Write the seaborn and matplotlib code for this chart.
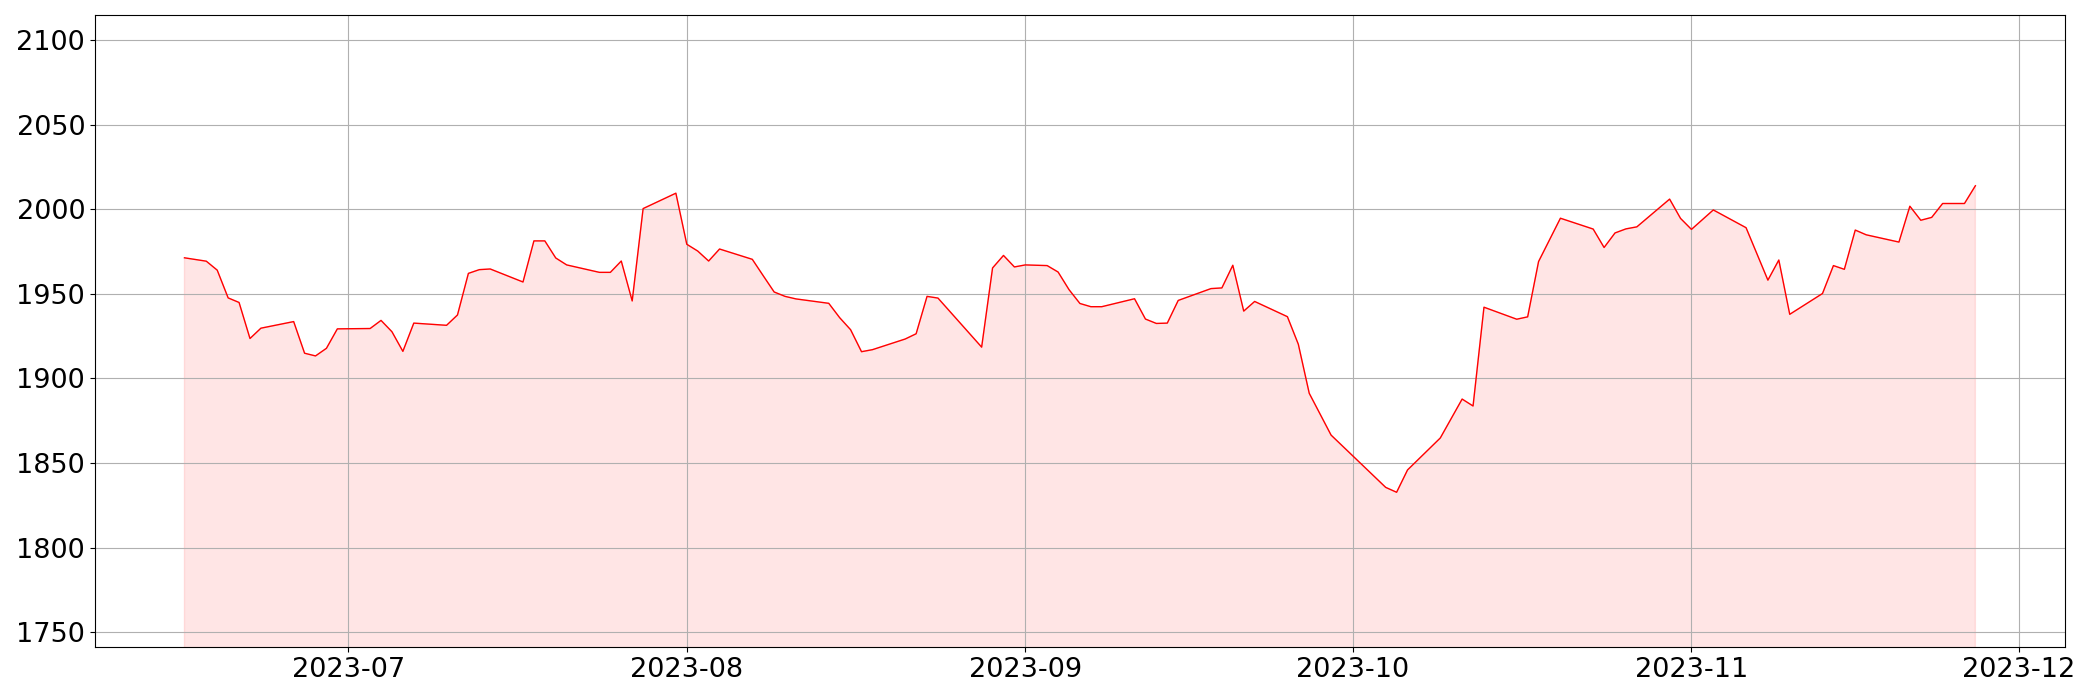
import pandas as pd
import numpy as np
import matplotlib
matplotlib.use("Agg")
import matplotlib.pyplot as plt
import seaborn as sns

# trading days and closing values
dates = [
    "2023-06-16", "2023-06-18", "2023-06-19", "2023-06-20", "2023-06-21", "2023-06-22",
    "2023-06-23", "2023-06-26", "2023-06-27", "2023-06-28", "2023-06-29", "2023-06-30",
    "2023-07-03", "2023-07-04", "2023-07-05", "2023-07-06", "2023-07-07", "2023-07-10",
    "2023-07-11", "2023-07-12", "2023-07-13", "2023-07-14", "2023-07-17", "2023-07-18",
    "2023-07-19", "2023-07-20", "2023-07-21", "2023-07-24", "2023-07-25", "2023-07-26",
    "2023-07-27", "2023-07-28", "2023-07-31",
    "2023-08-01", "2023-08-02", "2023-08-03", "2023-08-04", "2023-08-07", "2023-08-08",
    "2023-08-09", "2023-08-10", "2023-08-11", "2023-08-14", "2023-08-15", "2023-08-16",
    "2023-08-17", "2023-08-18", "2023-08-21", "2023-08-22", "2023-08-23", "2023-08-24",
    "2023-08-28", "2023-08-29", "2023-08-30", "2023-08-31",
    "2023-09-01", "2023-09-03", "2023-09-04", "2023-09-05", "2023-09-06", "2023-09-07",
    "2023-09-08", "2023-09-11", "2023-09-12", "2023-09-13", "2023-09-14", "2023-09-15",
    "2023-09-18", "2023-09-19", "2023-09-20", "2023-09-21", "2023-09-22", "2023-09-25",
    "2023-09-26", "2023-09-27", "2023-09-29",
    "2023-10-04", "2023-10-05", "2023-10-06", "2023-10-09", "2023-10-11", "2023-10-12",
    "2023-10-13", "2023-10-16", "2023-10-17", "2023-10-18", "2023-10-19", "2023-10-20",
    "2023-10-23", "2023-10-24", "2023-10-25", "2023-10-26", "2023-10-27", "2023-10-30",
    "2023-10-31",
    "2023-11-01", "2023-11-03", "2023-11-06", "2023-11-08", "2023-11-09", "2023-11-10",
    "2023-11-13", "2023-11-14", "2023-11-15", "2023-11-16", "2023-11-17", "2023-11-20",
    "2023-11-21", "2023-11-22", "2023-11-23", "2023-11-24", "2023-11-26", "2023-11-27",
]

values = [
    1971.3, 1969.3, 1964.0, 1947.6, 1944.9, 1923.6,
    1929.7, 1933.6, 1914.9, 1913.3, 1917.8, 1929.3,
    1929.5, 1934.3, 1927.6, 1916.0, 1932.7, 1931.4,
    1937.5, 1962.1, 1964.3, 1964.7, 1957.0, 1981.3,
    1981.3, 1971.2, 1967.1, 1962.7, 1962.7, 1969.4,
    1945.8, 2000.4, 2009.5,
    1979.3, 1975.3, 1969.4, 1976.5, 1970.4, 1960.7,
    1951.1, 1948.5, 1947.0, 1944.4, 1935.9, 1928.8,
    1915.8, 1917.0, 1923.3, 1926.4, 1948.5, 1947.5,
    1918.5, 1965.3, 1972.7, 1965.9,
    1967.1, 1966.7, 1962.9, 1952.5, 1944.3, 1942.4,
    1942.4, 1947.1, 1935.1, 1932.5, 1932.7, 1946.1,
    1953.1, 1953.5, 1966.9, 1939.8, 1945.5, 1936.5,
    1920.2, 1891.2, 1866.5,
    1835.6, 1832.7, 1845.9, 1864.8, 1887.8, 1883.7,
    1942.1, 1935.0, 1936.4, 1969.1, 1981.9, 1994.7,
    1988.3, 1977.4, 1986.0, 1988.4, 1989.6, 2006.0,
    1994.6,
    1988.1, 1999.6, 1989.1, 1958.1, 1970.0, 1937.9,
    1950.2, 1966.7, 1964.5, 1987.7, 1984.9, 1980.6,
    2001.8, 1993.5, 1995.2, 2003.4, 2003.4, 2013.9,
]

df = pd.DataFrame({"date": pd.to_datetime(dates), "close": values})

fig, ax = plt.subplots(figsize=(21, 7), dpi=100)
fig.subplots_adjust(left=0.0452, right=0.9833, bottom=0.0753, top=0.978)

sns.lineplot(data=df, x="date", y="close", color="red", linewidth=1, ax=ax)
ax.fill_between(df["date"], df["close"], 0, color="red", alpha=0.1)

ax.set_ylim(df["close"].min() * 0.95, df["close"].max() * 1.05)
ax.grid(True)
ax.set_xlabel("")
ax.set_ylabel("")
ax.tick_params(labelsize=19.5)

plt.savefig("out.png")
